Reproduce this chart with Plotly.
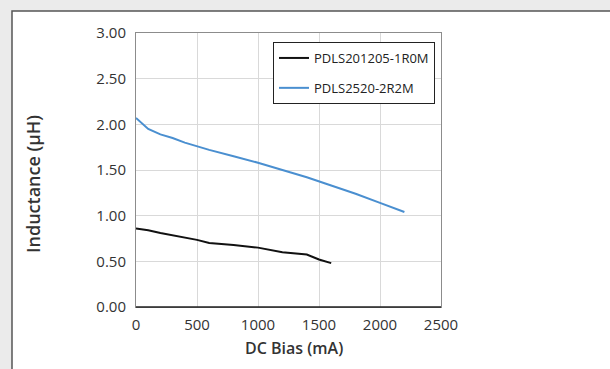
import plotly.graph_objects as go

# DC bias sweep (mA) and measured inductance (uH) for each part
bias_1r0m = [0, 100, 200, 300, 400, 500, 600, 800, 1000, 1200, 1400, 1500, 1600]
ind_1r0m = [0.86, 0.84, 0.81, 0.785, 0.76, 0.735, 0.70, 0.68, 0.65, 0.60, 0.575, 0.52, 0.48]

bias_2r2m = [0, 100, 200, 300, 400, 500, 600, 800, 1000, 1200, 1400, 1600, 1800, 2000, 2200]
ind_2r2m = [2.07, 1.95, 1.89, 1.85, 1.80, 1.76, 1.72, 1.65, 1.58, 1.50, 1.42, 1.33, 1.24, 1.14, 1.04]

x_ticks = [0, 500, 1000, 1500, 2000, 2500]
y_ticks = [0.0, 0.5, 1.0, 1.5, 2.0, 2.5, 3.0]

FONT = "Open Sans"
TXT = "#333333"

# plot area in pixels (610x369 canvas)
L, R, T, B = 136, 441, 33, 307
W, H = 610, 369
pw, ph = R - L, B - T


def px_x(p):
    return (p - L) / pw


def px_y(p):
    return (B - p) / ph


fig = go.Figure()
fig.add_trace(go.Scatter(x=bias_1r0m, y=ind_1r0m, mode="lines", name="PDLS201205-1R0M",
                         legendgroup="a",
                         line=dict(color="#111111", width=2)))
fig.add_trace(go.Scatter(x=bias_2r2m, y=ind_2r2m, mode="lines", name="PDLS2520-2R2M",
                         legendgroup="b",
                         line=dict(color="#4a8fd0", width=2)))

axis_common = dict(showgrid=True, gridcolor="#d9d9d9", gridwidth=1, zeroline=False,
                   showline=True, linecolor="#8c8c8c", linewidth=1, mirror=True,
                   ticks="", tickfont=dict(family=FONT, size=15, color=TXT))

fig.update_layout(
    width=W, height=H,
    margin=dict(l=L, r=W - R, t=T, b=H - B),
    paper_bgcolor="#ebebeb",
    plot_bgcolor="white",
    showlegend=True,
    hovermode=False,
    xaxis=dict(range=[0, 2500], tickvals=x_ticks, ticktext=[str(v) for v in x_ticks],
               ticklabelstandoff=4, **axis_common),
    yaxis=dict(range=[0, 3], tickvals=y_ticks, ticktext=[f"{v:.2f}" for v in y_ticks],
               ticklabelstandoff=6, **axis_common),
    legend=dict(x=px_x(435), y=px_y(42), xanchor="right", yanchor="top",
                bgcolor="white", bordercolor="#222222", borderwidth=1,
                font=dict(family=FONT, size=13, color="#222222"),
                itemwidth=30, tracegroupgap=10),
    annotations=[
        dict(text="DC Bias (mA)", xref="paper", yref="paper",
             x=px_x(294), y=px_y(348), xanchor="center", yanchor="middle",
             showarrow=False,
             font=dict(family=FONT, size=16, color=TXT, weight=600)),
        dict(text="Inductance (μH)", xref="paper", yref="paper", textangle=-90,
             x=px_x(33), y=px_y(184), xanchor="center", yanchor="middle",
             showarrow=False,
             font=dict(family=FONT, size=18, color=TXT, weight=600)),
    ],
    shapes=[
        # white card with dark outline behind the chart
        dict(type="rect", xref="paper", yref="paper", layer="below",
             x0=px_x(12), x1=px_x(640), y0=px_y(400), y1=px_y(11),
             fillcolor="white", line=dict(color="#555555", width=1.5)),
        # dark baseline along the x axis
        dict(type="line", xref="paper", yref="paper", layer="above",
             x0=0, x1=1, y0=0, y1=0, line=dict(color="#222222", width=1.5)),
    ],
)

fig.write_html("out.html")
